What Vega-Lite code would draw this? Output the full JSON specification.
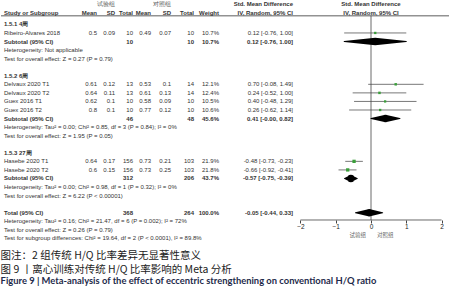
{
"$schema": "https://vega.github.io/schema/vega-lite/v6.json",
"padding": 0,
"bounds": "flush",
"spacing": 0,
"background": "white",
"data": {"values": [
{"id":"grp","kind":"group","sd1":"试验组","sd2":"对照组","ci":"Std. Mean Difference"},
{"id":"col","kind":"header","label":"Study or Subgroup","m1":"Mean","sd1":"SD","n1":"Total","m2":"Mean","sd2":"SD","n2":"Total","w":"Weight","ci":"IV, Random, 95% CI"},
{"id":"sg1","kind":"section","label":"1.5.1 4周"},
{"id":"rib","kind":"study","label":"Ribeiro-Alvares 2018","m1":"0.5","sd1":"0.09","n1":"10","m2":"0.49","sd2":"0.07","n2":"10","w":"10.7%","ci":"0.12 [-0.76, 1.00]","weight":10.7,"est":0.12,"lo":-0.76,"hi":1.00},
{"id":"sub1","kind":"subtotal","label":"Subtotal (95% CI)","n1":"10","n2":"10","w":"10.7%","ci":"0.12 [-0.76, 1.00]","est":0.12,"lo":-0.76,"hi":1.00},
{"id":"het1","kind":"note","label":"Heterogeneity: Not applicable"},
{"id":"z1","kind":"note","label":"Test for overall effect: Z = 0.27 (P = 0.79)"},
{"id":"sg2","kind":"section","label":"1.5.2 6周"},
{"id":"del1","kind":"study","label":"Delvaux 2020 T1","m1":"0.61","sd1":"0.12","n1":"13","m2":"0.53","sd2":"0.1","n2":"14","w":"12.1%","ci":"0.70 [-0.08, 1.49]","weight":12.1,"est":0.70,"lo":-0.08,"hi":1.49},
{"id":"del2","kind":"study","label":"Delvaux 2020 T2","m1":"0.64","sd1":"0.11","n1":"13","m2":"0.61","sd2":"0.13","n2":"14","w":"12.4%","ci":"0.24 [-0.52, 1.00]","weight":12.4,"est":0.24,"lo":-0.52,"hi":1.00},
{"id":"guex1","kind":"study","label":"Guex 2016 T1","m1":"0.62","sd1":"0.1","n1":"10","m2":"0.58","sd2":"0.09","n2":"10","w":"10.5%","ci":"0.40 [-0.48, 1.29]","weight":10.5,"est":0.40,"lo":-0.48,"hi":1.29},
{"id":"guex2","kind":"study","label":"Guex 2016 T2","m1":"0.8","sd1":"0.1","n1":"10","m2":"0.77","sd2":"0.12","n2":"10","w":"10.6%","ci":"0.26 [-0.62, 1.14]","weight":10.6,"est":0.26,"lo":-0.62,"hi":1.14},
{"id":"sub2","kind":"subtotal","label":"Subtotal (95% CI)","n1":"46","n2":"48","w":"45.6%","ci":"0.41 [-0.00, 0.82]","est":0.41,"lo":0.0,"hi":0.82},
{"id":"het2","kind":"note","label":"Heterogeneity: Tau² = 0.00; Chi² = 0.85, df = 3 (P = 0.84); I² = 0%"},
{"id":"z2","kind":"note","label":"Test for overall effect: Z = 1.95 (P = 0.05)"},
{"id":"sg3","kind":"section","label":"1.5.3 27周"},
{"id":"has1","kind":"study","label":"Hasebe 2020 T1","m1":"0.64","sd1":"0.17","n1":"156","m2":"0.73","sd2":"0.21","n2":"103","w":"21.9%","ci":"-0.48 [-0.73, -0.23]","weight":21.9,"est":-0.48,"lo":-0.73,"hi":-0.23},
{"id":"has2","kind":"study","label":"Hasebe 2020 T2","m1":"0.6","sd1":"0.15","n1":"156","m2":"0.73","sd2":"0.25","n2":"103","w":"21.8%","ci":"-0.66 [-0.92, -0.41]","weight":21.8,"est":-0.66,"lo":-0.92,"hi":-0.41},
{"id":"sub3","kind":"subtotal","label":"Subtotal (95% CI)","n1":"312","n2":"206","w":"43.7%","ci":"-0.57 [-0.75, -0.39]","est":-0.57,"lo":-0.75,"hi":-0.39},
{"id":"het3","kind":"note","label":"Heterogeneity: Tau² = 0.00; Chi² = 0.98, df = 1 (P = 0.32); I² = 0%"},
{"id":"z3","kind":"note","label":"Test for overall effect: Z = 6.22 (P < 0.00001)"},
{"id":"tot","kind":"subtotal","label":"Total (95% CI)","n1":"368","n2":"264","w":"100.0%","ci":"-0.05 [-0.44, 0.33]","est":-0.05,"lo":-0.44,"hi":0.33},
{"id":"hett","kind":"note","label":"Heterogeneity: Tau² = 0.16; Chi² = 21.47, df = 6 (P = 0.002); I² = 72%"},
{"id":"zt","kind":"note","label":"Test for overall effect: Z = 0.26 (P = 0.79)"},
{"id":"zsub","kind":"note","label":"Test for subgroup differences: Chi² = 19.64, df = 2 (P < 0.0001), I² = 89.8%"}
]},
"title": {
"text": ["图注：2 组传统 H/Q 比率差异无显著性意义", "图 9 丨离心训练对传统 H/Q 比率影响的 Meta 分析"],
"subtitle": "Figure 9   |    Meta-analysis of the effect of eccentric strengthening on conventional H/Q ratio",
"orient": "bottom", "anchor": "start", "offset": 5,
"font": "Noto Sans CJK SC", "fontSize": 10.5, "fontWeight": "normal", "color": "#222", "lineHeight": 14,
"subtitleFont": "Lato", "subtitleFontSize": 9.4, "subtitleFontWeight": "bold", "subtitleColor": "#1e2a4a", "subtitlePadding": 2
},
"hconcat": [
{"width": 3, "height": {"step": 8.56},
 "encoding": {"y": {"field":"id","type":"nominal","axis":null,"scale":{"type":"point","padding":0.85,"domain":["grp","col","sg1","rib","sub1","het1","z1","gap1","sg2","del1","del2","guex1","guex2","sub2","het2","z2","gap2","sg3","has1","has2","sub3","het3","z3","gap3","tot","hett","zt","zsub"]}}},
 "layer": [
  {"transform":[{"filter":"datum.kind === 'study' || datum.kind === 'note'"}],"mark":{"type":"text","align":"left"},"encoding":{"x":{"value":"width"},"text":{"field":"label","type":"nominal"}}},
  {"transform":[{"filter":"datum.kind === 'section' || datum.kind === 'subtotal'"}],"mark":{"type":"text","align":"left","fontWeight":"bold"},"encoding":{"x":{"value":"width"},"text":{"field":"label","type":"nominal"}}},
  {"transform":[{"filter":"datum.kind === 'header'"}],"mark":{"type":"text","align":"left","fontWeight":"bold","baseline":"bottom"},"encoding":{"x":{"value":"width"},"text":{"field":"label","type":"nominal"}}},
  {"transform":[{"filter":"datum.kind === 'header'"}],"mark":{"type":"rule","color":"#333","strokeWidth":0.8},"encoding":{}}
 ]},
{"width": 93, "height": {"step": 8.56},
 "encoding": {"y": {"field":"id","type":"nominal","axis":null,"scale":{"type":"point","padding":0.85,"domain":["grp","col","sg1","rib","sub1","het1","z1","gap1","sg2","del1","del2","guex1","guex2","sub2","het2","z2","gap2","sg3","has1","has2","sub3","het3","z3","gap3","tot","hett","zt","zsub"]}}},
 "layer": [
  {"transform":[{"filter":"datum.kind === 'study'"}],"mark":{"type":"text","align":"right"},"encoding":{"x":{"value":"width"},"text":{"field":"m1","type":"nominal"}}},
  {"transform":[{"filter":"datum.kind === 'header'"}],"mark":{"type":"text","align":"right","fontWeight":"bold","baseline":"bottom"},"encoding":{"x":{"value":"width"},"text":{"field":"m1","type":"nominal"}}},
  {"transform":[{"filter":"datum.kind === 'header'"}],"mark":{"type":"rule","color":"#333","strokeWidth":0.8},"encoding":{}}
 ]},
{"width": 18, "height": {"step": 8.56},
 "encoding": {"y": {"field":"id","type":"nominal","axis":null,"scale":{"type":"point","padding":0.85,"domain":["grp","col","sg1","rib","sub1","het1","z1","gap1","sg2","del1","del2","guex1","guex2","sub2","het2","z2","gap2","sg3","has1","has2","sub3","het3","z3","gap3","tot","hett","zt","zsub"]}}},
 "layer": [
  {"transform":[{"filter":"datum.kind === 'study'"}],"mark":{"type":"text","align":"right"},"encoding":{"x":{"value":"width"},"text":{"field":"sd1","type":"nominal"}}},
  {"transform":[{"filter":"datum.kind === 'header'"}],"mark":{"type":"text","align":"right","fontWeight":"bold","baseline":"bottom"},"encoding":{"x":{"value":"width"},"text":{"field":"sd1","type":"nominal"}}},
  {"transform":[{"filter":"datum.kind === 'group'"}],"mark":{"type":"text","align":"right","baseline":"bottom","color":"#555"},"encoding":{"x":{"value":"width"},"text":{"field":"sd1","type":"nominal"}}},
  {"transform":[{"filter":"datum.kind === 'header'"}],"mark":{"type":"rule","color":"#333","strokeWidth":0.8},"encoding":{}}
 ]},
{"width": 18, "height": {"step": 8.56},
 "encoding": {"y": {"field":"id","type":"nominal","axis":null,"scale":{"type":"point","padding":0.85,"domain":["grp","col","sg1","rib","sub1","het1","z1","gap1","sg2","del1","del2","guex1","guex2","sub2","het2","z2","gap2","sg3","has1","has2","sub3","het3","z3","gap3","tot","hett","zt","zsub"]}}},
 "layer": [
  {"transform":[{"filter":"datum.kind === 'study'"}],"mark":{"type":"text","align":"right"},"encoding":{"x":{"value":"width"},"text":{"field":"n1","type":"nominal"}}},
  {"transform":[{"filter":"datum.kind === 'subtotal'"}],"mark":{"type":"text","align":"right","fontWeight":"bold"},"encoding":{"x":{"value":"width"},"text":{"field":"n1","type":"nominal"}}},
  {"transform":[{"filter":"datum.kind === 'header'"}],"mark":{"type":"text","align":"right","fontWeight":"bold","baseline":"bottom"},"encoding":{"x":{"value":"width"},"text":{"field":"n1","type":"nominal"}}},
  {"transform":[{"filter":"datum.kind === 'header'"}],"mark":{"type":"rule","color":"#333","strokeWidth":0.8},"encoding":{}}
 ]},
{"width": 18, "height": {"step": 8.56},
 "encoding": {"y": {"field":"id","type":"nominal","axis":null,"scale":{"type":"point","padding":0.85,"domain":["grp","col","sg1","rib","sub1","het1","z1","gap1","sg2","del1","del2","guex1","guex2","sub2","het2","z2","gap2","sg3","has1","has2","sub3","het3","z3","gap3","tot","hett","zt","zsub"]}}},
 "layer": [
  {"transform":[{"filter":"datum.kind === 'study'"}],"mark":{"type":"text","align":"right"},"encoding":{"x":{"value":"width"},"text":{"field":"m2","type":"nominal"}}},
  {"transform":[{"filter":"datum.kind === 'header'"}],"mark":{"type":"text","align":"right","fontWeight":"bold","baseline":"bottom"},"encoding":{"x":{"value":"width"},"text":{"field":"m2","type":"nominal"}}},
  {"transform":[{"filter":"datum.kind === 'header'"}],"mark":{"type":"rule","color":"#333","strokeWidth":0.8},"encoding":{}}
 ]},
{"width": 20, "height": {"step": 8.56},
 "encoding": {"y": {"field":"id","type":"nominal","axis":null,"scale":{"type":"point","padding":0.85,"domain":["grp","col","sg1","rib","sub1","het1","z1","gap1","sg2","del1","del2","guex1","guex2","sub2","het2","z2","gap2","sg3","has1","has2","sub3","het3","z3","gap3","tot","hett","zt","zsub"]}}},
 "layer": [
  {"transform":[{"filter":"datum.kind === 'study'"}],"mark":{"type":"text","align":"right"},"encoding":{"x":{"value":"width"},"text":{"field":"sd2","type":"nominal"}}},
  {"transform":[{"filter":"datum.kind === 'header'"}],"mark":{"type":"text","align":"right","fontWeight":"bold","baseline":"bottom"},"encoding":{"x":{"value":"width"},"text":{"field":"sd2","type":"nominal"}}},
  {"transform":[{"filter":"datum.kind === 'group'"}],"mark":{"type":"text","align":"right","baseline":"bottom","color":"#555"},"encoding":{"x":{"value":"width"},"text":{"field":"sd2","type":"nominal"}}},
  {"transform":[{"filter":"datum.kind === 'header'"}],"mark":{"type":"rule","color":"#333","strokeWidth":0.8},"encoding":{}}
 ]},
{"width": 23, "height": {"step": 8.56},
 "encoding": {"y": {"field":"id","type":"nominal","axis":null,"scale":{"type":"point","padding":0.85,"domain":["grp","col","sg1","rib","sub1","het1","z1","gap1","sg2","del1","del2","guex1","guex2","sub2","het2","z2","gap2","sg3","has1","has2","sub3","het3","z3","gap3","tot","hett","zt","zsub"]}}},
 "layer": [
  {"transform":[{"filter":"datum.kind === 'study'"}],"mark":{"type":"text","align":"right"},"encoding":{"x":{"value":"width"},"text":{"field":"n2","type":"nominal"}}},
  {"transform":[{"filter":"datum.kind === 'subtotal'"}],"mark":{"type":"text","align":"right","fontWeight":"bold"},"encoding":{"x":{"value":"width"},"text":{"field":"n2","type":"nominal"}}},
  {"transform":[{"filter":"datum.kind === 'header'"}],"mark":{"type":"text","align":"right","fontWeight":"bold","baseline":"bottom"},"encoding":{"x":{"value":"width"},"text":{"field":"n2","type":"nominal"}}},
  {"transform":[{"filter":"datum.kind === 'header'"}],"mark":{"type":"rule","color":"#333","strokeWidth":0.8},"encoding":{}}
 ]},
{"width": 25, "height": {"step": 8.56},
 "encoding": {"y": {"field":"id","type":"nominal","axis":null,"scale":{"type":"point","padding":0.85,"domain":["grp","col","sg1","rib","sub1","het1","z1","gap1","sg2","del1","del2","guex1","guex2","sub2","het2","z2","gap2","sg3","has1","has2","sub3","het3","z3","gap3","tot","hett","zt","zsub"]}}},
 "layer": [
  {"transform":[{"filter":"datum.kind === 'study'"}],"mark":{"type":"text","align":"right"},"encoding":{"x":{"value":"width"},"text":{"field":"w","type":"nominal"}}},
  {"transform":[{"filter":"datum.kind === 'subtotal'"}],"mark":{"type":"text","align":"right","fontWeight":"bold"},"encoding":{"x":{"value":"width"},"text":{"field":"w","type":"nominal"}}},
  {"transform":[{"filter":"datum.kind === 'header'"}],"mark":{"type":"text","align":"right","fontWeight":"bold","baseline":"bottom"},"encoding":{"x":{"value":"width"},"text":{"field":"w","type":"nominal"}}},
  {"transform":[{"filter":"datum.kind === 'header'"}],"mark":{"type":"rule","color":"#333","strokeWidth":0.8},"encoding":{}}
 ]},
{"width": 74, "height": {"step": 8.56},
 "encoding": {"y": {"field":"id","type":"nominal","axis":null,"scale":{"type":"point","padding":0.85,"domain":["grp","col","sg1","rib","sub1","het1","z1","gap1","sg2","del1","del2","guex1","guex2","sub2","het2","z2","gap2","sg3","has1","has2","sub3","het3","z3","gap3","tot","hett","zt","zsub"]}}},
 "layer": [
  {"transform":[{"filter":"datum.kind === 'study'"}],"mark":{"type":"text","align":"right"},"encoding":{"x":{"value":"width"},"text":{"field":"ci","type":"nominal"}}},
  {"transform":[{"filter":"datum.kind === 'subtotal'"}],"mark":{"type":"text","align":"right","fontWeight":"bold"},"encoding":{"x":{"value":"width"},"text":{"field":"ci","type":"nominal"}}},
  {"transform":[{"filter":"datum.kind === 'header' || datum.kind === 'group'"}],"mark":{"type":"text","align":"right","fontWeight":"bold","baseline":"bottom"},"encoding":{"x":{"value":"width"},"text":{"field":"ci","type":"nominal"}}},
  {"transform":[{"filter":"datum.kind === 'header'"}],"mark":{"type":"rule","color":"#333","strokeWidth":0.8},"encoding":{}}
 ]},
{"width": 156, "height": {"step": 8.56},
 "encoding": {"y": {"field":"id","type":"nominal","axis":null,"scale":{"type":"point","padding":0.85,"domain":["grp","col","sg1","rib","sub1","het1","z1","gap1","sg2","del1","del2","guex1","guex2","sub2","het2","z2","gap2","sg3","has1","has2","sub3","het3","z3","gap3","tot"]}}},
 "layer": [
  {"transform":[{"filter":"datum.kind === 'study'"}],"mark":{"type":"rule","color":"#555","strokeWidth":0.8},
   "encoding":{"x":{"field":"lo","type":"quantitative","scale":{"domain":[-2.21,2.21],"nice":false,"zero":false},
     "axis":{"values":[-2,-1,0,1,2],"tickCount":5,"domain":false,"grid":false,"ticks":true,"tickSize":3,"tickColor":"#444","labelFont":"Liberation Sans","labelFontSize":6.5,"labelColor":"#222","labelPadding":1,"labelFlush":false,"labelOverlap":false,"labelBound":false,"title":"试验组　　对照组","titleFont":"Noto Sans CJK SC","titleFontSize":5.5,"titleFontWeight":"normal","titleColor":"#666","titlePadding":2}},
   "x2":{"field":"hi"}}},
  {"transform":[{"filter":"datum.kind === 'header'"}],"mark":{"type":"rule","color":"#333","strokeWidth":0.8},"encoding":{}},
  {"transform":[{"filter":"datum.kind === 'header'"}],"mark":{"type":"rule","color":"#444","strokeWidth":0.8},"encoding":{"x":{"datum":0,"type":"quantitative"},"y2":{"value":"height"}}},
  {"transform":[{"filter":"datum.kind === 'header'"}],"mark":{"type":"rule","color":"#444","strokeWidth":0.8},"encoding":{"x":{"datum":-2,"type":"quantitative"},"x2":{"datum":2},"y":{"value":"height"}}},
  {"transform":[{"filter":"datum.kind === 'study'"}],"mark":{"type":"point","shape":"square","filled":true,"color":"#3a9f3a","opacity":1},
   "encoding":{"x":{"field":"est","type":"quantitative"},"size":{"field":"weight","type":"quantitative","scale":{"domain":[10,22],"range":[5,11]},"legend":null}}},
  {"transform":[{"filter":"datum.kind === 'subtotal'"},{"fold":["lo","est","hi"],"as":["pt","v"]}],"mark":{"type":"trail","color":"#000"},
   "encoding":{"x":{"field":"v","type":"quantitative"},"detail":{"field":"id","type":"nominal"},"size":{"condition":{"test":"datum.pt === 'est'","value":7.5},"value":0}}},
  {"transform":[{"filter":"datum.kind === 'header' || datum.kind === 'group'"}],"mark":{"type":"text","align":"center","fontWeight":"bold","baseline":"bottom"},
   "encoding":{"x":{"datum":0,"type":"quantitative"},"text":{"field":"ci","type":"nominal"}}}
 ]}
],
"config": {"view": {"stroke": null}, "text": {"font": "Liberation Sans", "fontSize": 6, "color": "#333"}, "concat": {"spacing": 0}, "axis": {"labelOverlap": false}}
}
